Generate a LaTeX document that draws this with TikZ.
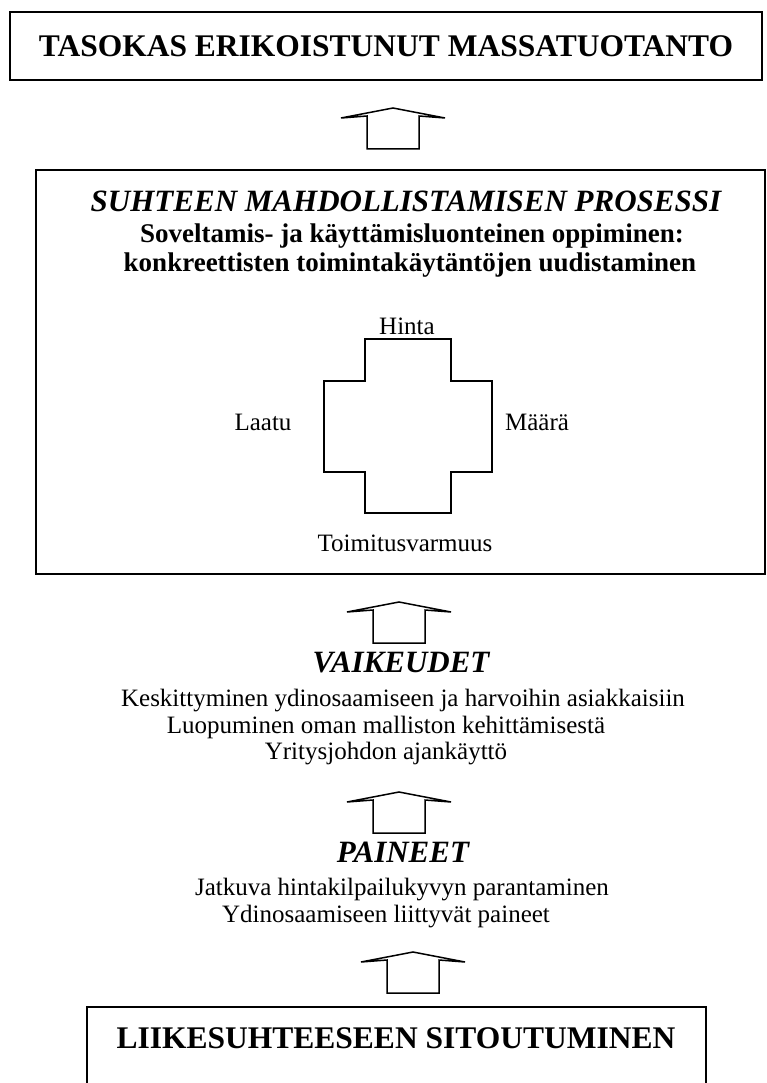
\documentclass[tikz,border=0pt]{standalone}
\usepackage{fontspec}
\setmainfont{Liberation Serif}
\begin{document}
\begin{tikzpicture}[x=1pt,y=-1pt,
  frame/.style={draw=black,line width=2pt},
  crossline/.style={draw=black,line width=1.5pt,line join=miter},
  bigtitle/.style={font=\fontsize{31.5}{34}\selectfont\bfseries,anchor=base},
  itltitle/.style={font=\fontsize{31}{34}\selectfont\bfseries\itshape,anchor=base},
  subtitle/.style={font=\fontsize{27}{30}\selectfont\bfseries,anchor=base},
  plain/.style={font=\fontsize{25}{28}\selectfont,anchor=base},
  blockarrow/.pic={
    \draw[black,line width=1.5pt,line join=miter]
      (-26,0) -- (-26,-33) -- (-52,-31) -- (0,-41) -- (52,-31)
      -- (26,-33) -- (26,0) -- cycle;
  }]
\useasboundingbox (0,0) rectangle (767,1083);

% top result box
\draw[frame] (10,12) rectangle (762,80);
\node[bigtitle] (toptitle) at (386,57) {TASOKAS ERIKOISTUNUT MASSATUOTANTO};

\pic at (393,149) {blockarrow};

% process box with the four dimensions
\draw[frame,line width=2.5pt] (36,170) rectangle (765,574);
\node[itltitle] (proc) at (406,212) {SUHTEEN MAHDOLLISTAMISEN PROSESSI};
\node[subtitle] (sub1) at (412,243) {Soveltamis- ja käyttämisluonteinen oppiminen:};
\node[subtitle] (sub2) at (410,271) {konkreettisten toimintakäytäntöjen uudistaminen};

\draw[crossline] (365,339) -- (451,339) -- (451,381) -- (492,381) -- (492,472)
  -- (451,472) -- (451,513) -- (365,513) -- (365,472) -- (324,472)
  -- (324,381) -- (365,381) -- cycle;
\node[plain] (hinta) at (407,334) {Hinta};
\node[plain] (laatu) at (263,430) {Laatu};
\node[plain] (maara) at (537,430) {Määrä};
\node[plain] (toim) at (405,551) {Toimitusvarmuus};

\pic at (399,643) {blockarrow};

% difficulties
\node[itltitle] (vaik) at (401,672) {VAIKEUDET};
\node[plain] (v1) at (403,706) {Keskittyminen ydinosaamiseen ja harvoihin asiakkaisiin};
\node[plain] (v2) at (386,733) {Luopuminen oman malliston kehittämisestä};
\node[plain] (v3) at (386,759) {Yritysjohdon ajankäyttö};

\pic at (399,833) {blockarrow};

% pressures
\node[itltitle] (pain) at (403,862) {PAINEET};
\node[plain] (p1) at (402,895) {Jatkuva hintakilpailukyvyn parantaminen};
\node[plain] (p2) at (386,922) {Ydinosaamiseen liittyvät paineet};

\pic at (413,993) {blockarrow};

% commitment box, running past the lower edge
\begin{scope}
\clip (0,0) rectangle (767,1083);
\draw[frame] (87,1007) rectangle (706,1110);
\end{scope}
\node[bigtitle] (commit) at (396,1048) {LIIKESUHTEESEEN SITOUTUMINEN};
\end{tikzpicture}
\end{document}
